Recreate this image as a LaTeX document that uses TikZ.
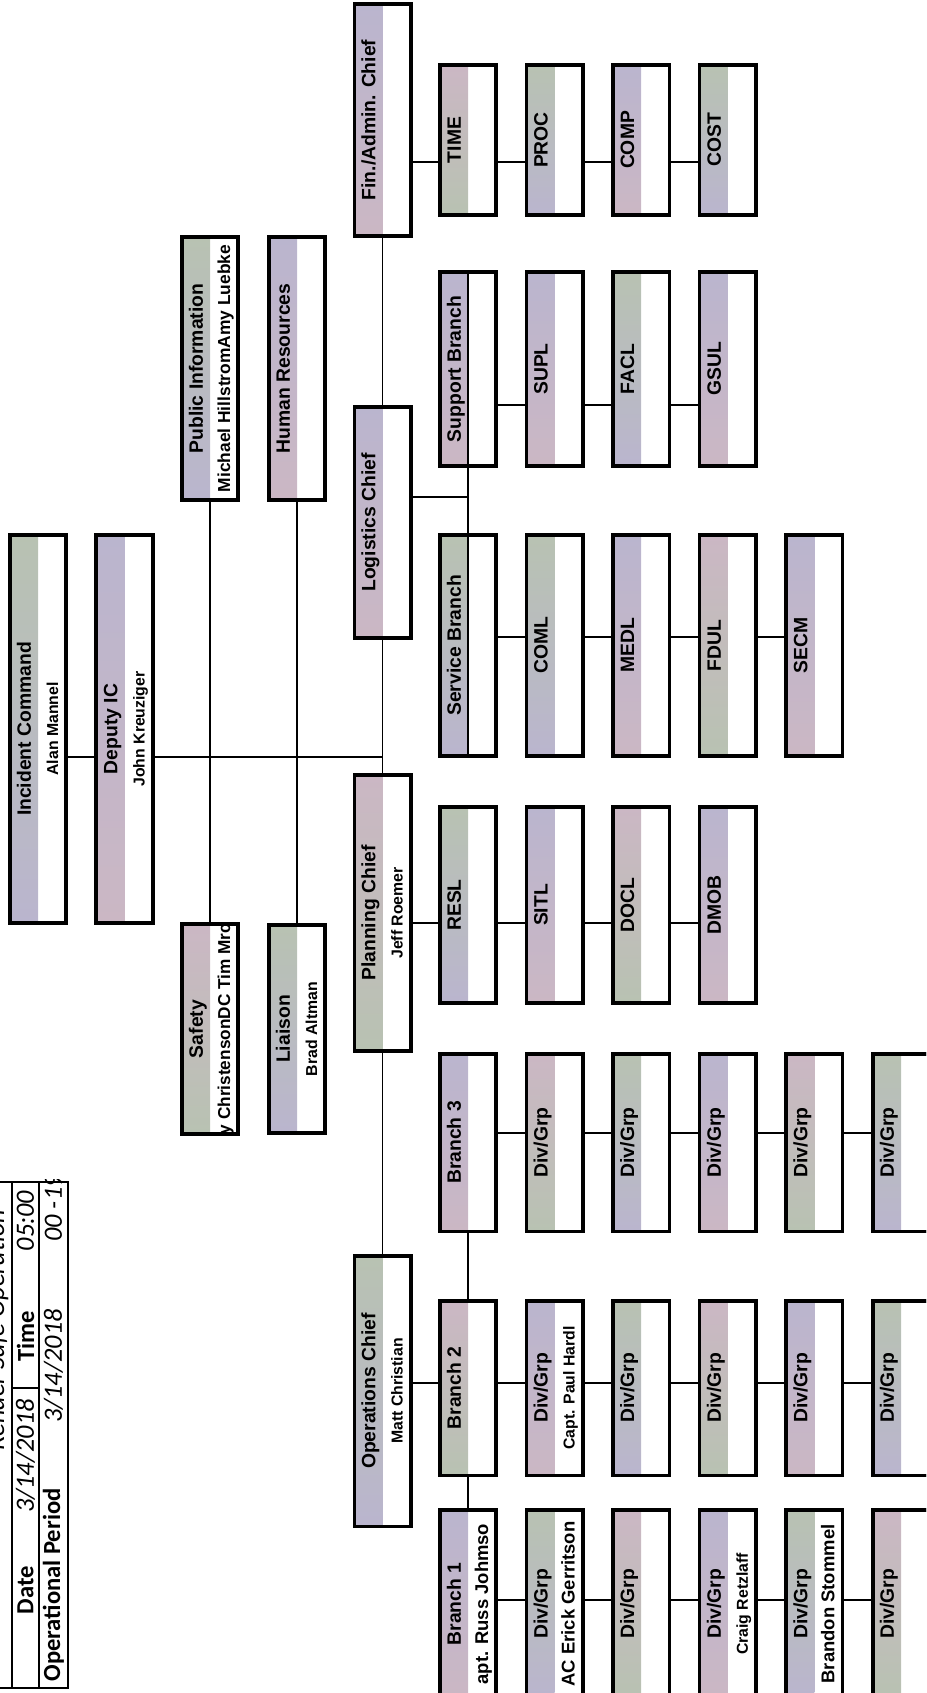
\documentclass[tikz,border=0pt]{standalone}
\usepackage{fontspec}
\usepackage{graphicx}
\newfontfamily\boxfnt{Liberation Sans}
\newfontfamily\formfnt{Carlito}
\usetikzlibrary{calc}

\definecolor{sgreen}{RGB}{184,194,178}
\definecolor{slav}{RGB}{186,181,206}
\definecolor{spink}{RGB}{203,183,196}

% two-line label turned to read upwards: title on the tinted half, person on the white half
\newcommand\tn[3][9]{\rotatebox{90}{\boxfnt\bfseries
  \begin{tabular}{@{}c@{}}
    \fontsize{11}{11}\selectfont\rule[-4pt]{0pt}{16pt}#2\\
    \fontsize{#1}{#1}\selectfont\rule[-4.6pt]{0pt}{16pt}#3
  \end{tabular}}}

\tikzset{
  tint/.style n args = {3}{path picture={%
      \shade[top color=#1, middle color=#2, bottom color=#3]
        (path picture bounding box.south west) rectangle (path picture bounding box.north);}},
  hueA/.style     = {tint={sgreen}{spink}{slav}},
  hueB/.style     = {tint={slav}{sgreen}{spink}},
  hueC/.style     = {tint={spink}{slav}{sgreen}},
  orgbox/.style   = {draw, line width=2pt, inner sep=0pt, minimum width=1.13cm, hueA,
                     postaction={draw, line width=2pt, path picture={}}},
  blen/.style     = {minimum height=#1*0.02cm-2pt},
  link/.style     = {line width=0.9pt},
  formline/.style = {line width=0.9pt},
  cellb/.style    = {rotate=90, inner sep=0pt, font=\formfnt\bfseries\fontsize{14}{14}\selectfont},
  celli/.style    = {rotate=90, inner sep=0pt, font=\formfnt\itshape\fontsize{15}{15}\selectfont},
}

\begin{document}
\begin{tikzpicture}[x=0.02cm, y=-0.02cm]
  \useasboundingbox (0,0) rectangle (926,1693);
  \clip (0,0) rectangle (926,1693);

  % heights of the connector lines
  \coordinate (trunk) at (0,757);
  \coordinate (lvF)   at (0,162);
  \coordinate (lvL)   at (0,405);
  \coordinate (lvLog) at (0,497);
  \coordinate (lvS)   at (0,637);
  \coordinate (lvP)   at (0,923);
  \coordinate (lvB3)  at (0,1133);
  \coordinate (lvB2)  at (0,1383);
  \coordinate (lvB1)  at (0,1600);

  % command and general staff
  \node[orgbox, hueA, blen=392] (ic)  at (38,729)     {\tn{Incident Command}{Alan Mannel}};
  \node[orgbox, hueB, blen=392] (dep) at (124.5,729)  {\tn{Deputy IC}{John Kreuziger}};
  \node[orgbox, hueA, blen=267] (pio) at (210,368.5)  {\tn[9.9]{Public Information}{Michael HillstromAmy Luebke}};
  \node[orgbox, hueB, blen=267] (hr)  at (297,368.5)  {\tn{Human Resources}{}};
  \node[orgbox, hueC, blen=212] (saf) at (210,1029)   {\tn[9.8]{Safety}{y ChristensonDC Tim Mrc}};
  \node[orgbox, hueA, blen=212] (lia) at (297,1029)   {\tn{Liaison}{Brad Altman}};
  \node[orgbox, hueB, blen=236] (fin) at (382.5,120)  {\tn{Fin./Admin. Chief}{}};
  \node[orgbox, hueB, blen=235] (log) at (382.5,522.5){\tn{Logistics Chief}{}};
  \node[orgbox, hueC, blen=280] (pln) at (382.5,913)  {\tn{Planning Chief}{Jeff Roemer}};
  \node[orgbox, hueA, blen=274] (ops) at (382.5,1391) {\tn{Operations Chief}{Matt Christian}};

  % units, one row per section
  \foreach \nm/\lbl/\h [count=\i] in {time/TIME/hueC, proc/PROC/hueA, comp/COMP/hueB, cost/COST/hueA}
    \node[orgbox, \h, blen=154] (\nm) at ({468+86.6*(\i-1)},140) {\tn{\lbl}{}};
  \foreach \nm/\lbl/\h [count=\i] in {sup/Support Branch/hueB, supl/SUPL/hueB, facl/FACL/hueA, gsul/GSUL/hueB}
    \node[orgbox, \h, blen=198] (\nm) at ({468+86.6*(\i-1)},369) {\tn{\lbl}{}};
  \foreach \nm/\lbl/\h [count=\i] in {svc/Service Branch/hueA, coml/COML/hueA, medl/MEDL/hueB, fdul/FDUL/hueC, secm/SECM/hueB}
    \node[orgbox, \h, blen=225] (\nm) at ({468+86.6*(\i-1)},645.5) {\tn{\lbl}{}};
  \foreach \nm/\lbl/\h [count=\i] in {resl/RESL/hueA, sitl/SITL/hueB, docl/DOCL/hueC, dmob/DMOB/hueB}
    \node[orgbox, \h, blen=200] (\nm) at ({468+86.6*(\i-1)},905) {\tn{\lbl}{}};

  % branches and divisions
  \node[orgbox, hueB, blen=181] (br3) at (468,1142.5) {\tn{Branch 3}{}};
  \foreach \nm/\h [count=\i from 2] in {b3d2/hueC, b3d3/hueA, b3d4/hueB, b3d5/hueC, b3d6/hueA}
    \node[orgbox, \h, blen=181] (\nm) at ({468+86.6*(\i-1)},1142.5) {\tn{Div/Grp}{}};
  \node[orgbox, hueC, blen=178] (br2) at (468,1388) {\tn{Branch 2}{}};
  \foreach \nm/\who/\h [count=\i from 2] in {b2d2/Capt. Paul Hardl/hueB, b2d3/{}/hueA, b2d4/{}/hueC, b2d5/{}/hueB, b2d6/{}/hueA}
    \node[orgbox, \h, blen=178] (\nm) at ({468+86.6*(\i-1)},1388) {\tn{Div/Grp}{\who}};
  \node[orgbox, hueB, blen=192] (br1) at (468,1604) {\tn[10.5]{Branch 1}{apt. Russ Johmso}};
  \foreach \nm/\who/\s/\h [count=\i from 2] in {b1d2/AC Erick Gerritson/10.5/hueA, b1d3/{}/9/hueC,
                                                 b1d4/Craig Retzlaff/9/hueB, b1d5/Brandon Stommel/10.5/hueA, b1d6/{}/9/hueC}
    \node[orgbox, \h, blen=192] (\nm) at ({468+86.6*(\i-1)},1604) {\tn[\s]{Div/Grp}{\who}};

  % reporting lines
  \draw[link] (ic.east |- trunk) -- (dep.west |- trunk);
  \draw[link] (dep.east |- trunk) -- (log.south |- trunk);
  \draw[link] (pio.south) -- (saf.north);
  \draw[link] (hr.south) -- (lia.north);
  \draw[link] (fin.south) -- (log.north);
  \draw[link] (log.south) -- (pln.north);
  \draw[link] (pln.south) -- (ops.north);
  \draw[link] (log.east |- lvLog) -- (sup.south |- lvLog);
  \draw[link] (sup.north) -- (svc.south);
  \draw[link] (br3.south) -- (br2.north);
  \draw[link] (br2.south) -- (br1.north);
  \foreach \a/\b/\lv in {fin/time/lvF, time/proc/lvF, proc/comp/lvF, comp/cost/lvF,
                         sup/supl/lvL, supl/facl/lvL, facl/gsul/lvL,
                         svc/coml/lvS, coml/medl/lvS, medl/fdul/lvS, fdul/secm/lvS,
                         pln/resl/lvP, resl/sitl/lvP, sitl/docl/lvP, docl/dmob/lvP,
                         br3/b3d2/lvB3, b3d2/b3d3/lvB3, b3d3/b3d4/lvB3, b3d4/b3d5/lvB3, b3d5/b3d6/lvB3,
                         ops/br2/lvB2, br2/b2d2/lvB2, b2d2/b2d3/lvB2, b2d3/b2d4/lvB2, b2d4/b2d5/lvB2, b2d5/b2d6/lvB2,
                         br1/b1d2/lvB1, b1d2/b1d3/lvB1, b1d3/b1d4/lvB1, b1d4/b1d5/lvB1, b1d5/b1d6/lvB1}
    \draw[link] (\a.east |- \lv) -- (\b.west |- \lv);

  % form header, cut by the page edge
  \begin{scope}
    \clip (-20,1179) rectangle (71,1691);
    \draw[formline] (-20,1182) -- (68,1182) -- (68,1688) -- (-20,1688);
    \draw[formline] (12,1182) -- (12,1688);
    \draw[formline] (39,1182) -- (39,1688);
    \draw[formline] (12,1388) -- (39,1388);
    \node[celli] (event)   at (-3,1330)   {Render Safe Operation};
    \node[cellb] (datek)   at (25.5,1590) {Date};
    \node[celli] (datev)   at (25.5,1456) {3/14/2018};
    \node[cellb] (timek)   at (25.5,1336) {Time};
    \node[celli] (timev)   at (25.5,1221) {05:00};
    \node[cellb] (periodk) at (53.5,1585) {Operational Period};
    \node[celli] (periodv) at (53.5,1366) {3/14/2018};
    \node[celli] (hoursv)  at (53.5,1208) {00 -19};
  \end{scope}
\end{tikzpicture}
\end{document}
